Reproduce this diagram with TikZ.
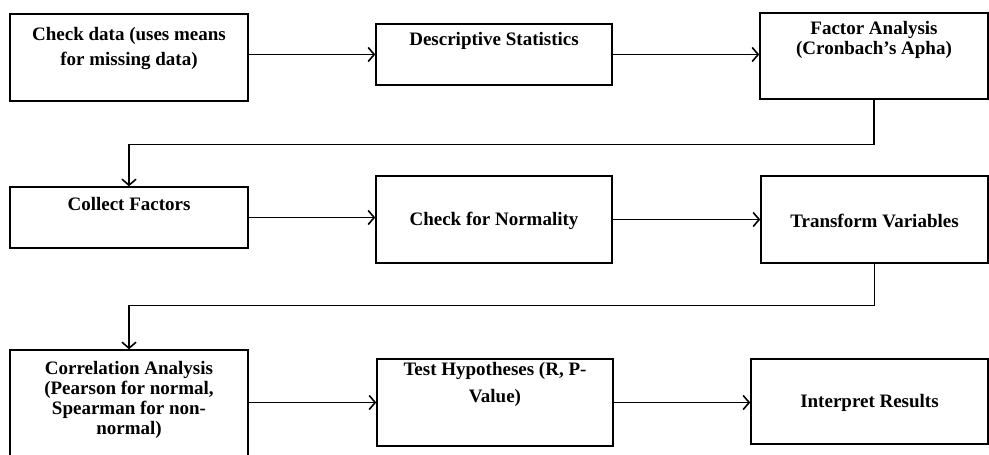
\documentclass[tikz,border=0pt]{standalone}
\usepackage{fontspec}
\setmainfont{Liberation Serif}
\usepackage{tikz}
\usetikzlibrary{positioning, arrows.meta}
\newcommand{\stagefont}{\fontsize{19}{20}\selectfont\bfseries}

\begin{document}
\begin{tikzpicture}[x=1pt, y=-1pt,
    stage/.style={draw, line width=1.5pt, inner sep=0pt},
    stagetext/.style={font=\stagefont, align=center, inner sep=0pt},
    flow/.style={line width=1.4pt, -{Straight Barb[length=6pt, width=14pt, line width=1.6pt]}}]
    \useasboundingbox (0,0) rectangle (989,455);

    % first row
    \node[stage, minimum width=238pt, minimum height=87pt] (check) at (129,57.5) {};
    \node[stage, minimum width=236pt, minimum height=61pt] (desc) at (494,54.5) {};
    \node[stage, minimum width=228pt, minimum height=86pt] (factor) at (874,56) {};
    \node[stagetext, below=14pt of check.north] {Check data (uses means\\[5pt]for missing data)};
    \node[stagetext, below=9pt of desc.north] {Descriptive Statistics};
    \node[stagetext, below=9pt of factor.north] {Factor Analysis\\(Cronbach's Apha)};

    % second row
    \node[stage, minimum width=238pt, minimum height=61pt] (collect) at (129,217.5) {};
    \node[stage, minimum width=236pt, minimum height=87pt] (normal) at (494,219.5) {};
    \node[stage, minimum width=227pt, minimum height=87pt] (transform) at (874.5,219.5) {};
    \node[stagetext, below=11pt of collect.north] {Collect Factors};
    \node[stagetext] at (494,221) {Check for Normality};
    \node[stagetext] at (874.5,221) {Transform Variables};

    % third row
    \node[stage, minimum width=238pt, minimum height=120pt] (correl) at (129,410) {};
    \node[stage, minimum width=236pt, minimum height=87pt] (hypo) at (495,402.5) {};
    \node[stage, minimum width=237pt, minimum height=85pt] (interp) at (869.5,401.5) {};
    \node[stagetext, below=12pt of correl.north] {Correlation Analysis\\(Pearson for normal,\\Spearman for non-\\normal)};
    \node[stagetext, below=4pt of hypo.north] {Test Hypotheses (R, P-\\[7pt]Value)};
    \node[stagetext] at (869.5,403) {Interpret Results};

    % connectors
    \draw[flow] (check.east |- desc.west) -- (desc.west);
    \draw[flow] (desc.east) -- (desc.east -| factor.west);
    \draw[flow] (factor.south) -- ++(0,45) -| (collect.north);
    \draw[flow] (collect.east) -- (collect.east -| normal.west);
    \draw[flow] (normal.east) -- (transform.west);
    \draw[flow] (transform.south) -- ++(0,42) -| (correl.north);
    \draw[flow] (hypo.west -| correl.east) -- (hypo.west);
    \draw[flow] (hypo.east) -- (hypo.east -| interp.west);
\end{tikzpicture}
\end{document}
